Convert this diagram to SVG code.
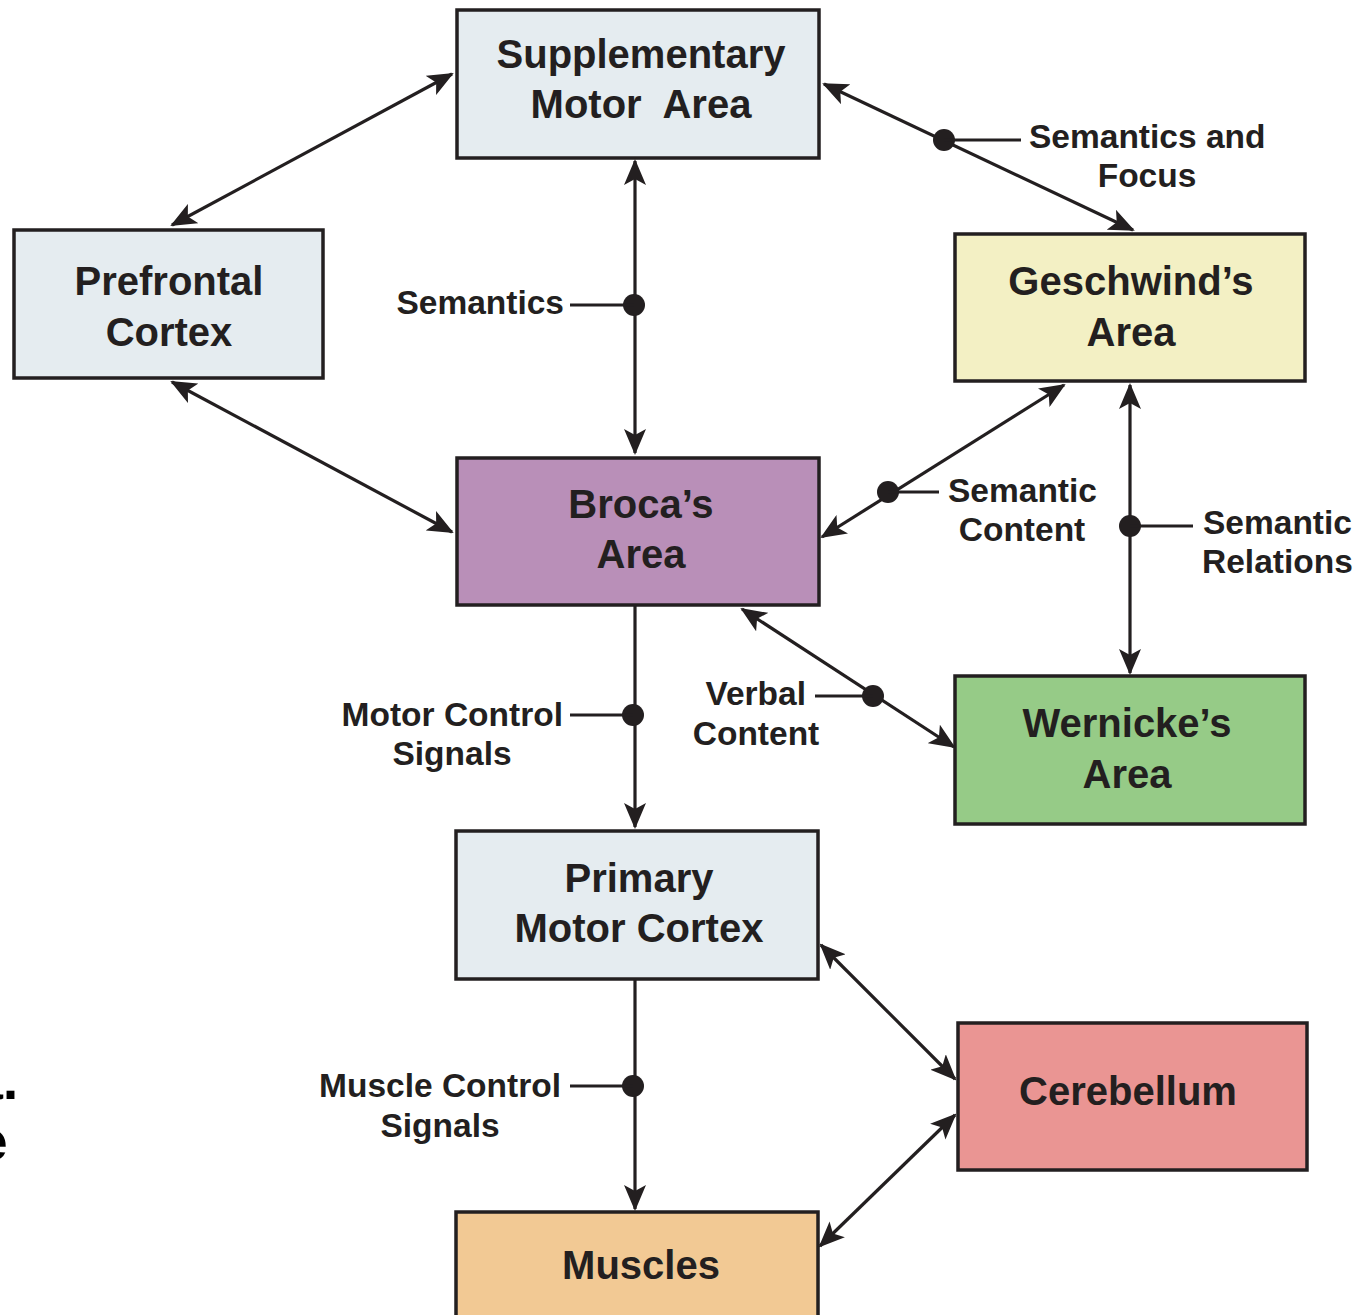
<svg xmlns="http://www.w3.org/2000/svg" width="1358" height="1315" viewBox="0 0 1358 1315">
<style>
.box{stroke:#231f20;stroke-width:3.5}
.nt{font-family:"Liberation Sans",Arial,sans-serif;font-weight:bold;font-size:40px;fill:#231f20;text-anchor:middle}
.lt{font-family:"Liberation Sans",Arial,sans-serif;font-weight:bold;font-size:33.5px;fill:#231f20}
.ln{stroke:#231f20;stroke-width:3.2;fill:none}
.both{marker-start:url(#ah);marker-end:url(#ah)}
.end{marker-end:url(#ah)}
.dot{fill:#231f20}
</style>
<defs>
<marker id="ah" viewBox="0 0 26 22" refX="24" refY="11" markerWidth="26" markerHeight="22" markerUnits="userSpaceOnUse" orient="auto-start-reverse">
<path d="M0,0 L26,11 L0,22 L6,11 z" fill="#231f20"/>
</marker>
</defs>
<rect width="1358" height="1315" fill="#fff"/>

<g id="connectors">
<line class="ln both" x1="172" y1="225" x2="452" y2="74"/>
<line class="ln both" x1="172" y1="382" x2="452" y2="532"/>
<line class="ln both" x1="635" y1="161" x2="635" y2="453"/>
<circle class="dot" cx="634" cy="305" r="11"/>
<line class="ln" x1="570" y1="305" x2="634" y2="305"/>
<line class="ln both" x1="824" y1="84" x2="1133" y2="230"/>
<circle class="dot" cx="944" cy="140" r="11"/>
<line class="ln" x1="944" y1="140" x2="1021" y2="140"/>
<line class="ln both" x1="1064" y1="385" x2="822" y2="537"/>
<circle class="dot" cx="888" cy="492" r="11"/>
<line class="ln" x1="888" y1="492" x2="939" y2="492"/>
<line class="ln both" x1="1130" y1="385" x2="1130" y2="673"/>
<circle class="dot" cx="1130" cy="526" r="11"/>
<line class="ln" x1="1130" y1="526" x2="1193" y2="526"/>
<line class="ln both" x1="742" y1="609" x2="954" y2="747"/>
<circle class="dot" cx="873" cy="696" r="11"/>
<line class="ln" x1="815" y1="696" x2="873" y2="696"/>
<line class="ln end" x1="635" y1="606" x2="635" y2="827"/>
<circle class="dot" cx="633" cy="715" r="11"/>
<line class="ln" x1="570" y1="715" x2="633" y2="715"/>
<line class="ln end" x1="635" y1="980" x2="635" y2="1209"/>
<circle class="dot" cx="633" cy="1086" r="11"/>
<line class="ln" x1="570" y1="1086" x2="633" y2="1086"/>
<line class="ln both" x1="821" y1="945" x2="955" y2="1079"/>
<line class="ln both" x1="820" y1="1246" x2="955" y2="1115"/>
</g>

<g id="labels">
<text class="lt" x="564" y="314" text-anchor="end">Semantics</text>
<text class="lt" x="1029" y="148">Semantics and</text>
<text class="lt" x="1147" y="187" text-anchor="middle">Focus</text>
<text class="lt" x="948" y="502">Semantic</text>
<text class="lt" x="1022" y="541" text-anchor="middle">Content</text>
<text class="lt" x="1203" y="534">Semantic</text>
<text class="lt" x="1202" y="573">Relations</text>
<text class="lt" x="806" y="705" text-anchor="end">Verbal</text>
<text class="lt" x="756" y="745" text-anchor="middle">Content</text>
<text class="lt" x="563" y="726" text-anchor="end">Motor Control</text>
<text class="lt" x="452" y="765" text-anchor="middle">Signals</text>
<text class="lt" x="561" y="1097" text-anchor="end">Muscle Control</text>
<text class="lt" x="440" y="1137" text-anchor="middle">Signals</text>
</g>

<g id="sma">
<rect class="box" x="457" y="10" width="362" height="148" fill="#e5ecf0"/>
<text class="nt" x="641" y="68">Supplementary</text>
<text class="nt" x="641" y="118" xml:space="preserve">Motor  Area</text>
</g>
<g id="prefrontal">
<rect class="box" x="14" y="230" width="309" height="148" fill="#e5ecf0"/>
<text class="nt" x="169" y="295">Prefrontal</text>
<text class="nt" x="169" y="346">Cortex</text>
</g>
<g id="geschwind">
<rect class="box" x="955" y="234" width="350" height="147" fill="#f3f0c4"/>
<text class="nt" x="1131" y="295">Geschwind’s</text>
<text class="nt" x="1131" y="346">Area</text>
</g>
<g id="broca">
<rect class="box" x="457" y="458" width="362" height="147" fill="#b98fb8"/>
<text class="nt" x="641" y="518">Broca’s</text>
<text class="nt" x="641" y="568">Area</text>
</g>
<g id="wernicke">
<rect class="box" x="955" y="676" width="350" height="148" fill="#96cb87"/>
<text class="nt" x="1127" y="737">Wernicke’s</text>
<text class="nt" x="1127" y="788">Area</text>
</g>
<g id="primary">
<rect class="box" x="456" y="831" width="362" height="148" fill="#e5ecf0"/>
<text class="nt" x="639" y="892">Primary</text>
<text class="nt" x="639" y="942">Motor Cortex</text>
</g>
<g id="cerebellum">
<rect class="box" x="958" y="1023" width="349" height="147" fill="#ea9593"/>
<text class="nt" x="1128" y="1105">Cerebellum</text>
</g>
<g id="muscles">
<rect class="box" x="456" y="1212" width="362" height="110" fill="#f2c994"/>
<text class="nt" x="641" y="1279">Muscles</text>
</g>

<g id="edge-fragments">
<text class="nt" x="-5" y="1099" text-anchor="end" style="font-size:56px;fill:#000">a.</text>
<text class="nt" x="-8" y="1160" text-anchor="end" style="font-size:56px;fill:#000">e</text>
</g>
</svg>
